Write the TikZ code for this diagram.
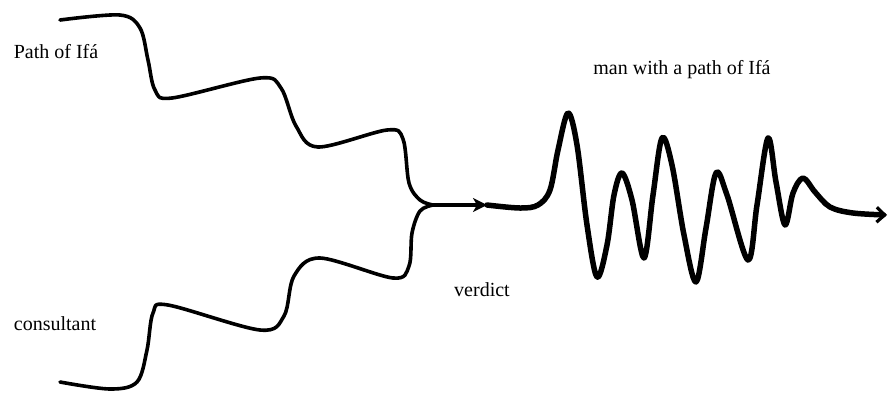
\documentclass[tikz,border=0pt]{standalone}
\usepackage{fontspec}
\setmainfont{Liberation Serif}
\usetikzlibrary{arrows.meta}
\tikzset{
  lbl/.style={font=\fontsize{20}{23}\selectfont, inner sep=0pt},
  thin wave/.style={line width=3.6pt, line cap=round, line join=round},
  thick wave/.style={line width=5.5pt, line cap=round, line join=round},
}
\begin{document}
\begin{tikzpicture}[x=1pt,y=-1pt]
\useasboundingbox (0,0) rectangle (888,392);
\coordinate (p0) at (60,20);
\coordinate (c0) at (60,382);
\coordinate (j) at (433,205);
\coordinate (m) at (487,205);
\coordinate (e) at (887,215);
% labels
\node[lbl] (lp) at (56,52) {Path of Ifá};
\node[lbl] (lc) at (55,324) {consultant};
\node[lbl] (lv) at (482,290) {verdict};
\node[lbl] (lm) at (682,70) {man with a path of Ifá};
% path of Ifa
\draw[thin wave] plot[smooth, tension=0.55] coordinates {
  (p0) (120,15) (140,28) (148,60) (155,90) (172,98) (260,78) (281,88) (296,126)
  (318,147) (387,130) (403,139) (409,183) (420,200) (j)};
% consultant
\draw[thin wave] plot[smooth, tension=0.55] coordinates {
  (j) (420,211) (412,233) (409,266) (393,278) (320,258) (294,276) (284,316)
  (260,330) (168,305) (153,313) (147,350) (137,382) (110,389) (c0)};
% verdict line with arrow
\draw[thin wave, -{Stealth[length=14pt,width=14pt,inset=4pt]}] (j) -- (m);
% man with a path of Ifa
\draw[thick wave, -{Straight Barb[length=8pt,width=15pt,line width=3.2pt]}] plot[smooth, tension=0.55] coordinates {
  (m) (520,208) (538,205) (550,190) (558,150) (568,113) (577,145) (587,225)
  (597,277) (607,245) (614,195) (622,173) (632,200) (644,258) (653,195)
  (662,138) (672,165) (684,235) (696,282) (706,228) (716,173) (727,195)
  (748,260) (757,205) (768,138) (776,182) (785,225) (793,193) (803,178)
  (815,192) (830,207) (853,213) (e)};
\end{tikzpicture}
\end{document}
